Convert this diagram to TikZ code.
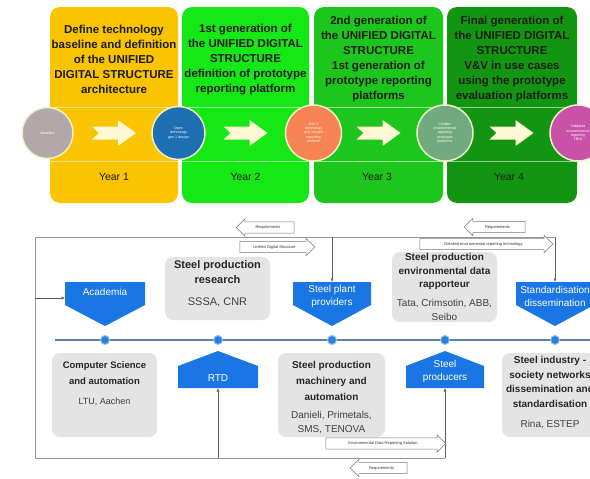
\documentclass[tikz,border=0pt]{standalone}
\usepackage{fontspec}
\setmainfont{Liberation Sans}
\usetikzlibrary{shapes.arrows,arrows.meta}
\definecolor{yA}{RGB}{250,196,0}
\definecolor{yB}{RGB}{22,232,22}
\definecolor{yC}{RGB}{28,198,28}
\definecolor{yD}{RGB}{18,150,18}
\definecolor{hdrtxt}{RGB}{28,28,20}
\definecolor{chevfill}{RGB}{255,248,212}
\definecolor{circring}{RGB}{240,240,200}
\definecolor{cgrey}{RGB}{178,168,170}
\definecolor{cblue}{RGB}{30,110,178}
\definecolor{corange}{RGB}{245,132,82}
\definecolor{cgreen}{RGB}{112,170,126}
\definecolor{cmag}{RGB}{200,82,168}
\definecolor{bblue}{RGB}{26,118,228}
\definecolor{boxgrey}{RGB}{228,228,228}
\definecolor{framegrey}{RGB}{150,150,150}
\definecolor{conngrey}{RGB}{95,95,95}
\definecolor{tlcol}{RGB}{95,130,165}
\definecolor{dotblue}{RGB}{40,130,220}
\definecolor{dotring}{RGB}{150,195,235}
\definecolor{arrgrey}{RGB}{120,120,120}
\begin{document}
\begin{tikzpicture}[x=1pt,y=-1pt,
  yearbox/.style={rounded corners=10pt, inner sep=0, minimum height=196},
  bandline/.style={draw=white, draw opacity=0.55, line width=0.8pt},
  hdr/.style={align=center, inner sep=0, text=hdrtxt, font=\fontsize{11.5}{15}\selectfont\bfseries},
  yr/.style={inner sep=0, text=hdrtxt, font=\fontsize{10.5}{12}\selectfont},
  bigc/.style={circle, draw=circring, line width=1.5pt, text=white, align=center, inner sep=0, font=\fontsize{3.6}{4.4}\selectfont},
  chev/.pic={\fill[chevfill] (-22,-6.5) -- (4,-6.5) -- (4,-13) -- (22,0) -- (4,13) -- (4,6.5) -- (-22,6.5) -- (-15,0) -- cycle;},
  gbox/.style={fill=boxgrey, rounded corners=8pt, inner sep=0},
  gtitle/.style={align=center, inner sep=0, text=black!85, font=\fontsize{10}{14}\selectfont\bfseries},
  gname/.style={align=center, inner sep=0, text=black!75, font=\fontsize{10}{14}\selectfont},
  btxt/.style={align=center, inner sep=0, text=white, font=\fontsize{10}{13.5}\selectfont},
  frame/.style={draw=framegrey, line width=0.7pt},
  conn/.style={draw=conngrey, line width=0.6pt, -{Latex[length=3.5pt,width=3pt]}},
  tline/.style={draw=tlcol, line width=1.2pt},
  dot/.style={circle, fill=dotblue, draw=dotring, line width=1pt, minimum size=9, inner sep=0},
  blk/.style={single arrow, draw=arrgrey, fill=white, line width=0.5pt, inner xsep=1pt, inner ysep=3.5pt,
    single arrow head extend=3pt, text=black!80, font=\fontsize{4}{5}\selectfont}
]
\useasboundingbox (0,0) rectangle (590,479);
\clip (0,0) rectangle (590,479);
\fill[white] (0,0) rectangle (590,479);

% ---------- top: year boxes ----------
\node[yearbox, fill=yA, minimum width=128] (y1) at (114,105) {};
\node[yearbox, fill=yB, minimum width=127] (y2) at (245.5,105) {};
\node[yearbox, fill=yC, minimum width=129] (y3) at (378.5,105) {};
\node[yearbox, fill=yD, minimum width=130] (y4) at (512,105) {};
\foreach \n in {y1,y2,y3,y4}{
  \draw[bandline] (\n.west |- 0,107) -- (\n.east |- 0,107);
  \draw[bandline] (\n.west |- 0,161) -- (\n.east |- 0,161);
}

\node[hdr] (h1) at (114,59.5) {Define technology\\baseline and definition\\of the UNIFIED\\DIGITAL STRUCTURE\\architecture};
\node[hdr] (h2) at (245.5,59.5) {1st generation of\\the UNIFIED DIGITAL\\STRUCTURE\\definition of prototype\\reporting platform};
\node[hdr] (h3) at (378.5,59.5) {2nd generation of\\the UNIFIED DIGITAL\\STRUCTURE\\1st generation of\\prototype reporting\\platforms};
\node[hdr] (h4) at (512,59.5) {Final generation of\\the UNIFIED DIGITAL\\STRUCTURE\\V\&V in use cases\\using the prototype\\evaluation platforms};

\pic at (114,133) {chev};
\pic at (245.5,133) {chev};
\pic at (378.5,133) {chev};
\pic at (511.5,133) {chev};

\node[bigc, fill=cgrey, minimum size=51] (c0) at (47.5,133) {Baseline};
\node[bigc, fill=cblue, minimum size=53] (c1) at (178.5,133) {Open\\technology\\gen 1 design};
\node[bigc, fill=corange, minimum size=56] (c2) at (313.5,133) {Gen 2\\technology\\and 1st gen\\reporting\\platform};
\node[bigc, fill=cgreen, minimum size=56] (c3) at (445,133) {Unified\\environmental\\reporting\\prototype\\platforms};
\node[bigc, fill=cmag, minimum size=56] (c4) at (578,133) {Validated\\environmental\\reporting\\TRL6};

\node[yr] (yl1) at (114,177) {Year 1};
\node[yr] (yl2) at (245.5,177) {Year 2};
\node[yr] (yl3) at (377,177) {Year 3};
\node[yr] (yl4) at (509,177) {Year 4};

% ---------- bottom: network ----------
\coordinate (fTL) at (35,237);
\coordinate (fBL) at (35,458);
\coordinate (fTR) at (555,237);
\coordinate (fBR) at (445,458);
\coordinate (fSP) at (332,237);
\coordinate (fRT) at (218,458);
\coordinate (fAC) at (35,298);
\draw[frame] (fTR) -- (fTL) -- (fBL) -- (fBR);

% timeline
\coordinate (tlL) at (55,340);
\coordinate (tlR) at (600,340);
\draw[tline] (tlL) -- (tlR);

% grey boxes
\node[gbox, minimum width=105, minimum height=63] (resB) at (217.5,288.5) {};
\node[gtitle, font=\fontsize{11}{15}\selectfont\bfseries] (resT) at (217.5,272.5) {Steel production\\research};
\node[gname, font=\fontsize{11}{14}\selectfont] (resN) at (217.5,302) {SSSA, CNR};

\node[gbox, minimum width=105, minimum height=70] (rapB) at (444.5,287) {};
\node[gtitle, font=\fontsize{10}{13.5}\selectfont\bfseries] (rapT) at (444.5,271.5) {Steel production\\environmental data\\rapporteur};
\node[gname] (rapN) at (444.5,309.5) {Tata, Crimsotin, ABB,\\Seibo};

\node[gbox, minimum width=105, minimum height=84] (csB) at (104.5,395) {};
\node[gtitle, font=\fontsize{9.5}{16}\selectfont\bfseries] (csT) at (104.5,373) {Computer Science\\and automation};
\node[gname, font=\fontsize{9}{12}\selectfont] (csN) at (104.5,402) {LTU, Aachen};

\node[gbox, minimum width=107, minimum height=84] (maB) at (331.5,395) {};
\node[gtitle, font=\fontsize{10}{16}\selectfont\bfseries] (maT) at (331.5,381) {Steel production\\machinery and\\automation};
\node[gname] (maN) at (331.5,423) {Danieli, Primetals,\\SMS, TENOVA};

\node[gbox, minimum width=100, minimum height=84] (soB) at (552,395) {};
\node[gtitle, font=\fontsize{10}{14.7}\selectfont\bfseries] (soT) at (550,382) {Steel industry -\\society networks\\dissemination and\\standardisation};
\node[gname] (soN) at (550,425) {Rina, ESTEP};

% blue down shapes
\fill[bblue] (65,282) -- (145,282) -- (145,305) -- (105,326) -- (65,305) -- cycle;
\node[btxt] (acad) at (105,292) {Academia};
\coordinate (acadL) at (65,298);
\fill[bblue] (293,282) -- (371,282) -- (371,305) -- (332,326) -- (293,305) -- cycle;
\node[btxt] (spp) at (332,296.5) {Steel plant\\providers};
\coordinate (sppT) at (332,282);
\fill[bblue] (516,282) -- (594,282) -- (594,305) -- (555,326) -- (516,305) -- cycle;
\node[btxt] (std) at (555,296.5) {Standardisation\\dissemination};
\coordinate (stdT) at (555,282);

% blue up shapes
\fill[bblue] (218,351) -- (258,366) -- (258,388) -- (178,388) -- (178,366) -- cycle;
\node[btxt] (rtd) at (218,378) {RTD};
\coordinate (rtdB) at (218,388);
\fill[bblue] (445,351) -- (484,366) -- (484,388) -- (406,388) -- (406,366) -- cycle;
\node[btxt] (prod) at (445,371.5) {Steel\\producers};
\coordinate (prodB) at (445,388);

% connectors
\draw[conn] (fAC) -- (acadL);
\draw[conn] (fSP) -- (sppT);
\draw[conn] (fTR) -- (stdT);
\draw[conn] (fRT) -- (rtdB);
\draw[conn] (fBR) -- (prodB);

% timeline dots
\node[dot] (d1) at (105,340) {};
\node[dot] (d2) at (218,340) {};
\node[dot] (d3) at (332,340) {};
\node[dot] (d4) at (445,340) {};
\node[dot] (d5) at (555,340) {};

% flow arrows
\node[blk, shape border rotate=180, minimum height=58, minimum width=17] (a1) at (268,227.5) {Requirements};
\node[blk, minimum height=75, minimum width=17] (a2) at (274.5,247) {Unified Digital Structure};
\node[blk, shape border rotate=180, minimum height=61, minimum width=17] (a3) at (497.5,227) {Requirements};
\node[blk, minimum height=133, minimum width=17] (a4) at (483.5,244) {Detailed environmental reporting technology};
\node[blk, minimum height=120, minimum width=17] (a5) at (383,443.5) {Environmental Data Reporting Solution};
\node[blk, shape border rotate=180, minimum height=57, minimum width=17] (a6) at (381.5,468) {Requirements};
\end{tikzpicture}
\end{document}
